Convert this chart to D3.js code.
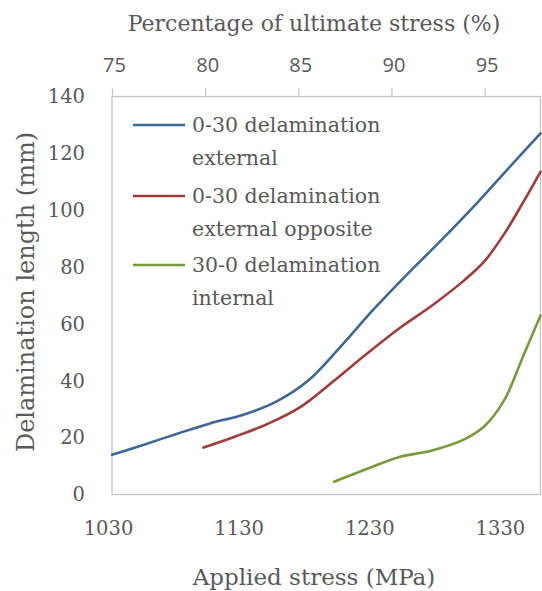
<!DOCTYPE html>
<html>
<head>
<meta charset="utf-8">
<script src="https://cdn.jsdelivr.net/npm/d3@7"></script>
<style>
  html, body { margin: 0; padding: 0; background: #fff; }
  svg { display: block; }
</style>
</head>
<body>
<svg id="chart" width="542" height="591"></svg>
<script>
// Applied stress (MPa) vs delamination length (mm) for three delamination configurations
const stressExternal = [1030, 1055, 1080, 1105, 1130, 1155, 1180, 1205, 1230, 1255, 1280, 1305, 1330, 1358];
const lengthExternal = [14, 17.6, 21.4, 25, 28, 32.5, 40, 52, 65, 77, 88.5, 100.4, 113, 127];

const stressOpposite = [1100, 1125, 1150, 1175, 1200, 1225, 1250, 1275, 1300, 1315, 1330, 1345, 1358];
const lengthOpposite = [16.5, 20.5, 25, 31, 40, 49.5, 58.5, 66.5, 75.5, 82, 91.5, 103, 113.5];

const stressInternal = [1200, 1225, 1250, 1275, 1300, 1315, 1330, 1345, 1358];
const lengthInternal = [4.5, 9, 13.2, 15.5, 19.5, 24, 33, 49, 63];

const seriesNames = [
  ["0-30 delamination", "external"],
  ["0-30 delamination", "external opposite"],
  ["30-0 delamination", "internal"]
];
const seriesColors = ["#3d6699", "#a33b3b", "#789a3c"];

const stressTicks = [1030, 1130, 1230, 1330];
const lengthTicks = [0, 20, 40, 60, 80, 100, 120, 140];
const percentTicks = [75, 80, 85, 90, 95];

const stressDomain = [1030, 1358];
const lengthDomain = [0, 140];
const percentDomain = [75, 98];

const series = [
  { x: stressExternal, y: lengthExternal },
  { x: stressOpposite, y: lengthOpposite },
  { x: stressInternal, y: lengthInternal }
];

const svg = d3.select("#chart");
const plotLeft = 112, plotRight = 540.5, plotTop = 96.5, plotBottom = 494.5;
const textColor = "#595959";
const axisColor = "#c4c4c4";
const serif = "'DejaVu Serif', serif";

const x = d3.scaleLinear().domain(stressDomain).range([plotLeft, plotRight]);
const y = d3.scaleLinear().domain(lengthDomain).range([plotBottom, plotTop]);
const xTop = d3.scaleLinear().domain(percentDomain).range([plotLeft, plotRight]);

// plot frame
svg.append("rect")
  .attr("x", plotLeft).attr("y", plotTop)
  .attr("width", plotRight - plotLeft).attr("height", plotBottom - plotTop)
  .attr("fill", "none").attr("stroke", axisColor).attr("stroke-width", 1.3);

// bottom axis: stress labels only
const gx = svg.append("g").attr("transform", `translate(0,${plotBottom})`)
  .call(d3.axisBottom(x).tickValues(stressTicks).tickSize(0).tickPadding(27).tickFormat(d3.format("d")));
gx.select(".domain").remove();
gx.selectAll("text")
  .attr("fill", textColor).attr("dx", -4)
  .style("font-family", serif).style("font-size", "19.5px");

// left axis
const gy = svg.append("g").attr("transform", `translate(${plotLeft},0)`)
  .call(d3.axisLeft(y).tickValues(lengthTicks).tickSize(0).tickPadding(27));
gy.select(".domain").remove();
gy.selectAll("text")
  .attr("fill", textColor)
  .style("font-family", serif).style("font-size", "19.5px");

// top axis: percentage of ultimate stress
const gt = svg.append("g").attr("transform", `translate(0,${plotTop})`)
  .call(d3.axisTop(xTop).tickValues(percentTicks).tickSize(8).tickPadding(17));
gt.select(".domain").remove();
gt.selectAll("line").attr("stroke", axisColor).attr("stroke-width", 1.3);
gt.selectAll("text")
  .attr("fill", textColor).attr("dx", 2)
  .style("font-family", "'Open Sans', 'DejaVu Sans', sans-serif").style("font-size", "20px");

// series lines
const line = d3.line()
  .x(d => x(d[0])).y(d => y(d[1]))
  .curve(d3.curveCatmullRom.alpha(0.5));

series.forEach((s, i) => {
  svg.append("path")
    .datum(s.x.map((v, k) => [v, s.y[k]]))
    .attr("fill", "none")
    .attr("stroke", seriesColors[i])
    .attr("stroke-width", 2.6)
    .attr("stroke-linecap", "round")
    .attr("d", line);
});

// legend
const legendRows = [125, 196, 265];
seriesNames.forEach((name, i) => {
  const g = svg.append("g").attr("transform", `translate(133,${legendRows[i]})`);
  g.append("line")
    .attr("x1", 0).attr("x2", 52).attr("y1", 0).attr("y2", 0)
    .attr("stroke", seriesColors[i]).attr("stroke-width", 2.6);
  const t = g.append("text")
    .attr("x", 59).attr("y", 0)
    .attr("fill", textColor)
    .style("font-family", serif).style("font-size", "20.5px");
  t.append("tspan").attr("x", 59).attr("dy", "0.35em").text(name[0]);
  t.append("tspan").attr("x", 59).attr("dy", "1.58em").text(name[1]);
});

// axis titles
svg.append("text")
  .attr("x", 314).attr("y", 31)
  .attr("text-anchor", "middle").attr("fill", textColor)
  .style("font-family", serif).style("font-size", "22px")
  .text("Percentage of ultimate stress (%)");

svg.append("text")
  .attr("x", 314).attr("y", 585)
  .attr("text-anchor", "middle").attr("fill", textColor)
  .style("font-family", serif).style("font-size", "23px")
  .text("Applied stress (MPa)");

svg.append("text")
  .attr("transform", "translate(34,292) rotate(-90)")
  .attr("text-anchor", "middle").attr("fill", textColor)
  .style("font-family", serif).style("font-size", "24px")
  .text("Delamination length (mm)");
</script>
</body>
</html>
